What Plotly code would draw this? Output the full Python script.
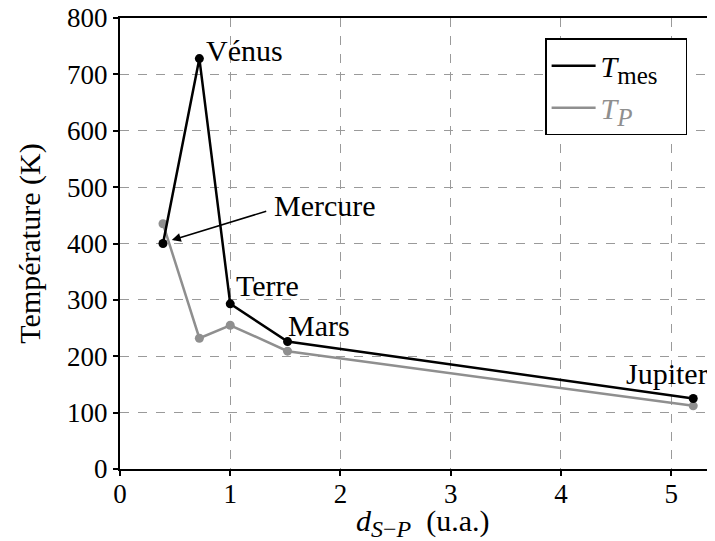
import plotly.graph_objects as go

planets = ["Mercure", "Vénus", "Terre", "Mars", "Jupiter"]
distance_ua = [0.39, 0.72, 1.00, 1.52, 5.20]
t_mes = [400, 728, 293, 226, 125]
t_p = [435, 232, 255, 209, 112]

x_ticks = [0, 1, 2, 3, 4, 5]
y_ticks = [0, 100, 200, 300, 400, 500, 600, 700, 800]

FONT = "Liberation Serif"
FS_TICK = 27
FS = 30
GRAY = "#8f8f8f"

fig = go.Figure()
fig.add_trace(go.Scatter(
    x=distance_ua, y=t_p, mode="lines+markers", showlegend=False,
    line=dict(color=GRAY, width=2.5),
    marker=dict(color=GRAY, size=9),
))
fig.add_trace(go.Scatter(
    x=distance_ua, y=t_mes, mode="lines+markers", showlegend=False,
    line=dict(color="black", width=2.5),
    marker=dict(color="black", size=9),
))
# legend entries (lines only, as in the reference)
fig.add_trace(go.Scatter(
    x=[None], y=[None], mode="lines", legendgroup="a",
    name="<i>T</i><sub><span style='font-size:25px'>mes</span></sub>&nbsp;&nbsp;&nbsp;",
    line=dict(color="black", width=2.5),
))
fig.add_trace(go.Scatter(
    x=[None], y=[None], mode="lines", legendgroup="b",
    name="<span style='color:#8f8f8f'><i>T<sub><span style='font-size:25px'>P</span></sub></i></span>",
    line=dict(color=GRAY, width=2.5),
))

# labels
label_pos = {
    "Vénus": dict(x=0.76, y=743, xanchor="left"),
    "Terre": dict(x=1.03, y=326, xanchor="left"),
    "Mars": dict(x=1.51, y=255, xanchor="left"),
    "Jupiter": dict(x=5.35, y=170, xanchor="right"),
    "Mercure": dict(x=1.38, y=468, xanchor="left"),
}
for name, p in label_pos.items():
    fig.add_annotation(x=p["x"], y=p["y"], text=name, showarrow=False,
                       xanchor=p["xanchor"], yanchor="middle",
                       font=dict(family=FONT, size=FS, color="black"))

# arrow to Mercure
fig.add_annotation(x=0.47, y=406, ax=1.34, ay=458, axref="x", ayref="y",
                   text="", showarrow=True, arrowhead=2, arrowsize=1.2,
                   arrowwidth=1.5, arrowcolor="black")

# x-axis title
fig.add_annotation(
    xref="paper", yref="paper", x=0.503, y=-0.12,
    xanchor="center", yanchor="middle", showarrow=False,
    text="<i>d</i><sub><span style='font-size:24px'><i>S</i>−<i>P</i></span></sub>&nbsp;&nbsp;(u.a.)",
    font=dict(family=FONT, size=FS, color="black"),
)

fig.update_layout(
    width=715, height=541,
    margin=dict(l=112, r=0, t=10, b=80),
    plot_bgcolor="white", paper_bgcolor="white",
    font=dict(family=FONT, size=FS, color="black"),
    showlegend=True,
    legend=dict(x=0.705, y=0.955, xanchor="left", yanchor="top",
                bordercolor="black", borderwidth=1.5, bgcolor="white",
                tracegroupgap=0, font=dict(family=FONT, size=FS),
                itemwidth=44),
)
fig.update_xaxes(
    range=[0, 5.47], tickvals=x_ticks, ticktext=[str(v) for v in x_ticks],
    tickfont=dict(family=FONT, size=FS_TICK), ticklabelstandoff=-5,
    ticklabeloverflow="allow",
    showline=True, linecolor="black", linewidth=2, mirror=True,
    ticks="outside", ticklen=5, tickcolor="black", tickwidth=1.5,
    showgrid=True, gridcolor="#9a9a9a", griddash="dash", gridwidth=1,
    zeroline=False, automargin=False,
)
fig.update_yaxes(
    range=[0, 800], tickvals=y_ticks, ticktext=[str(v) for v in y_ticks],
    tickfont=dict(family=FONT, size=FS_TICK), ticklabeloverflow="allow",
    showline=True, linecolor="black", linewidth=2,
    ticks="outside", ticklen=5, tickcolor="black", tickwidth=1.5,
    showgrid=True, gridcolor="#9a9a9a", griddash="dash", gridwidth=1,
    zeroline=False, automargin=False,
    title=dict(text="Température (K)", standoff=18,
               font=dict(family=FONT, size=FS)),
)

fig.write_html("out.html")
